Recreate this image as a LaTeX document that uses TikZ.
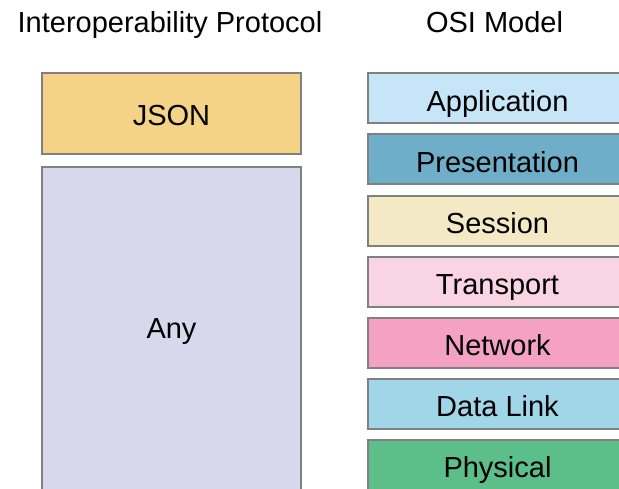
\documentclass[tikz,border=0pt]{standalone}
\usepackage{fontspec}
\setmainfont{Liberation Sans}
\usetikzlibrary{positioning}
\definecolor{bordergray}{HTML}{808080}
\definecolor{cjson}{HTML}{F5D386}
\definecolor{cany}{HTML}{D9D7EC}
\definecolor{capp}{HTML}{C6E6F8}
\definecolor{cpres}{HTML}{6FAEC8}
\definecolor{csess}{HTML}{F3E9C4}
\definecolor{ctrans}{HTML}{F9D4E3}
\definecolor{cnet}{HTML}{F4A1C4}
\definecolor{cdl}{HTML}{A1D6E9}
\definecolor{cphys}{HTML}{5CBF89}
\tikzset{
  layerbox/.style={draw=bordergray, line width=2pt, minimum width=259pt, inner sep=0pt, outer sep=0pt},
  osibox/.style={layerbox, minimum height=50pt},
  lbl/.style={anchor=base, inner sep=0pt, font=\fontsize{29}{34}\selectfont, text=black},
}
\begin{document}
\begin{tikzpicture}[x=1pt,y=-1pt]
\useasboundingbox (0,0) rectangle (619,488);
\clip (0,0) rectangle (619,488);
\fill[white] (0,0) rectangle (619,488);
% titles
\node[lbl] (t1) at (170,32) {Interoperability Protocol};
\node[lbl] (t2) at (494.5,32) {OSI Model};
% left column
\node[layerbox, fill=cjson, minimum height=81pt] (json) at (171.5,113.5) {};
\node[lbl] (jsont) at (171.5,125) {JSON};
\node[layerbox, fill=cany, minimum height=326pt] (any) at (171.5,330) {};
\node[lbl] (anyt) at (171.5,338) {Any};
% right column
\node[osibox, fill=capp]   (app)  at (497.5,98) {};
\node[osibox, fill=cpres]  (pres) at (497.5,159) {};
\node[osibox, fill=csess]  (sess) at (497.5,220.5) {};
\node[osibox, fill=ctrans] (tran) at (497.5,281.5) {};
\node[osibox, fill=cnet]   (net)  at (497.5,342.5) {};
\node[osibox, fill=cdl]    (dl)   at (497.5,403.5) {};
\node[osibox, fill=cphys]  (phys) at (497.5,464.5) {};
\node[lbl] (appt)  at ([yshift=-13pt]app.center)  {Application};
\node[lbl] (prest) at ([yshift=-13pt]pres.center) {Presentation};
\node[lbl] (sesst) at ([yshift=-13pt]sess.center) {Session};
\node[lbl] (trant) at ([yshift=-13pt]tran.center) {Transport};
\node[lbl] (nett)  at ([yshift=-13pt]net.center)  {Network};
\node[lbl] (dlt)   at ([yshift=-13pt]dl.center)   {Data Link};
\node[lbl] (physt) at ([yshift=-13pt]phys.center) {Physical};
\end{tikzpicture}
\end{document}
